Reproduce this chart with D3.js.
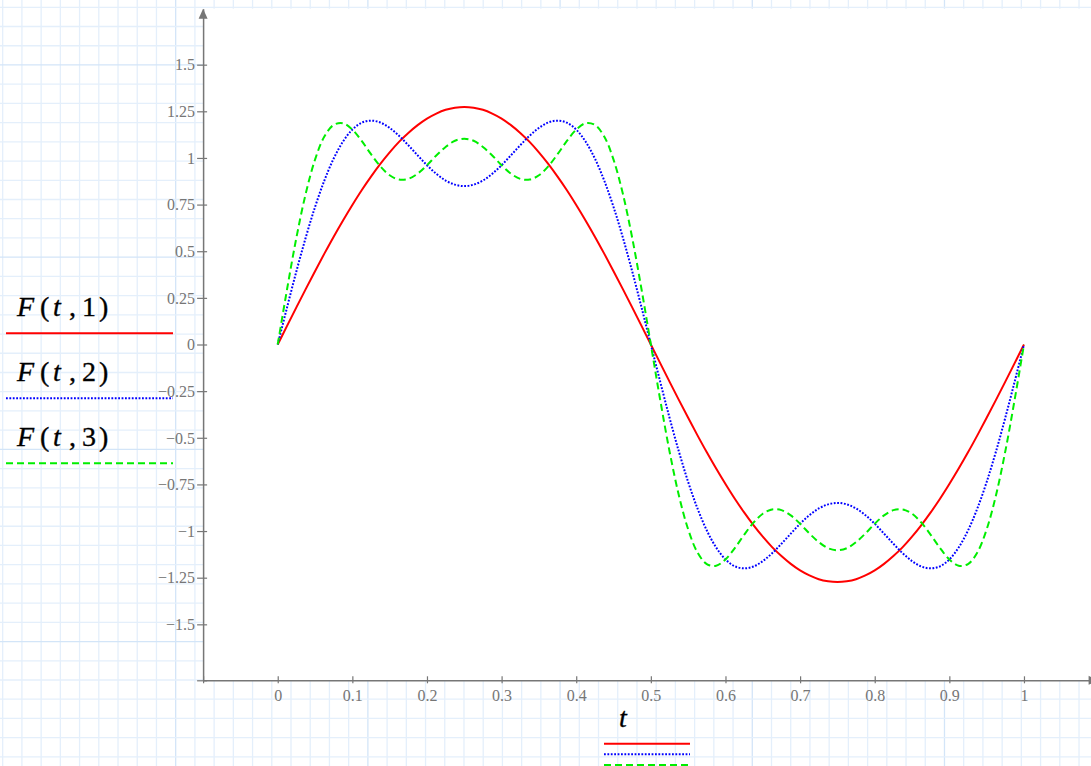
<!DOCTYPE html>
<html>
<head>
<meta charset="utf-8">
<script src="https://cdn.jsdelivr.net/npm/d3@7"></script>
<style>
  body { margin: 0; background: #fff; overflow: hidden; }
  .mathText { font-family: "Liberation Serif", serif; font-size: 28px; fill: #000; stroke: #000; stroke-width: 0.35px; }
</style>
</head>
<body>
<div id="chart"></div>
<script>
// Sample points
var tValues = [0, 0.0125, 0.025, 0.0375, 0.05, 0.0625, 0.075, 0.0875, 0.1, 0.1125, 0.125, 0.1375, 0.15, 0.1625, 0.175, 0.1875,
  0.2, 0.2125, 0.225, 0.2375, 0.25, 0.2625, 0.275, 0.2875, 0.3, 0.3125, 0.325, 0.3375, 0.35, 0.3625, 0.375, 0.3875,
  0.4, 0.4125, 0.425, 0.4375, 0.45, 0.4625, 0.475, 0.4875, 0.5, 0.5125, 0.525, 0.5375, 0.55, 0.5625, 0.575, 0.5875,
  0.6, 0.6125, 0.625, 0.6375, 0.65, 0.6625, 0.675, 0.6875, 0.7, 0.7125, 0.725, 0.7375, 0.75, 0.7625, 0.775, 0.7875,
  0.8, 0.8125, 0.825, 0.8375, 0.85, 0.8625, 0.875, 0.8875, 0.9, 0.9125, 0.925, 0.9375, 0.95, 0.9625, 0.975, 0.9875, 1];

var f1Values = [0, 0.100, 0.199, 0.297, 0.393, 0.487, 0.578, 0.665, 0.748, 0.827, 0.900, 0.968, 1.030, 1.086, 1.134, 1.176,
  1.211, 1.238, 1.258, 1.269, 1.273, 1.269, 1.258, 1.238, 1.211, 1.176, 1.134, 1.086, 1.030, 0.968, 0.900, 0.827,
  0.748, 0.665, 0.578, 0.487, 0.393, 0.297, 0.199, 0.100, 0, -0.100, -0.199, -0.297, -0.393, -0.487, -0.578, -0.665,
  -0.748, -0.827, -0.900, -0.968, -1.030, -1.086, -1.134, -1.176, -1.211, -1.238, -1.258, -1.269, -1.273, -1.269, -1.258, -1.238,
  -1.211, -1.176, -1.134, -1.086, -1.030, -0.968, -0.900, -0.827, -0.748, -0.665, -0.578, -0.487, -0.393, -0.297, -0.199, -0.100, 0];

var f2Values = [0, 0.199, 0.392, 0.573, 0.737, 0.879, 0.997, 1.088, 1.152, 1.189, 1.200, 1.190, 1.161, 1.119, 1.068, 1.014,
  0.961, 0.915, 0.879, 0.857, 0.849, 0.857, 0.879, 0.915, 0.961, 1.014, 1.068, 1.119, 1.161, 1.190, 1.200, 1.189,
  1.152, 1.088, 0.997, 0.879, 0.737, 0.573, 0.392, 0.199, 0, -0.199, -0.392, -0.573, -0.737, -0.879, -0.997, -1.088,
  -1.152, -1.189, -1.200, -1.190, -1.161, -1.119, -1.068, -1.014, -0.961, -0.915, -0.879, -0.857, -0.849, -0.857, -0.879, -0.915,
  -0.961, -1.014, -1.068, -1.119, -1.161, -1.190, -1.200, -1.189, -1.152, -1.088, -0.997, -0.879, -0.737, -0.573, -0.392, -0.199, 0];

var f3Values = [0, 0.296, 0.572, 0.808, 0.991, 1.115, 1.177, 1.186, 1.152, 1.091, 1.020, 0.955, 0.907, 0.884, 0.888, 0.916,
  0.961, 1.013, 1.059, 1.092, 1.103, 1.092, 1.059, 1.013, 0.961, 0.916, 0.888, 0.884, 0.907, 0.955, 1.020, 1.091,
  1.152, 1.186, 1.177, 1.115, 0.991, 0.808, 0.572, 0.296, 0, -0.296, -0.572, -0.808, -0.991, -1.115, -1.177, -1.186,
  -1.152, -1.091, -1.020, -0.955, -0.907, -0.884, -0.888, -0.916, -0.961, -1.013, -1.059, -1.092, -1.103, -1.092, -1.059, -1.013,
  -0.961, -0.916, -0.888, -0.884, -0.907, -0.955, -1.020, -1.091, -1.152, -1.186, -1.177, -1.115, -0.991, -0.808, -0.572, -0.296, 0];

var seriesArgs = ["1", "2", "3"];
var seriesColors = ["#ff0000", "#0000ff", "#00ee00"];
var seriesDash = ["none", "1.8,1.6", "7,4"];

var xTicks = [-0.1, 0, 0.1, 0.2, 0.3, 0.4, 0.5, 0.6, 0.7, 0.8, 0.9, 1];
var xTickLabels = ["", "0", "0.1", "0.2", "0.3", "0.4", "0.5", "0.6", "0.7", "0.8", "0.9", "1"];
var yTicks = [1.5, 1.25, 1, 0.75, 0.5, 0.25, 0, -0.25, -0.5, -0.75, -1, -1.25, -1.5, -1.8];
var yTickLabels = ["1.5", "1.25", "1", "0.75", "0.5", "0.25", "0", "\u22120.25", "\u22120.5", "\u22120.75", "\u22121", "\u22121.25", "\u22121.5", ""];

var svgWidth = 1091;
var svgHeight = 766;

var svg = d3.select("#chart")
  .append("svg")
  .attr("width", svgWidth)
  .attr("height", svgHeight);

// Step 1: worksheet grid background
// ==============================
var gridStep = 19.22;
var gridGroup = svg.append("g");
for (var i = 0; i * gridStep < svgWidth; i++) {
  gridGroup.append("line")
    .attr("x1", 2.7 + i * gridStep).attr("x2", 2.7 + i * gridStep)
    .attr("y1", 0).attr("y2", svgHeight)
    .attr("stroke", i % 10 == 9 ? "#d3e5f8" : "#e4effb")
    .attr("stroke-width", 1.3);
}
for (var j = 0; j * gridStep < svgHeight; j++) {
  gridGroup.append("line")
    .attr("y1", 7.3 + j * gridStep).attr("y2", 7.3 + j * gridStep)
    .attr("x1", 0).attr("x2", svgWidth)
    .attr("stroke", j % 10 == 3 ? "#d3e5f8" : "#e4effb")
    .attr("stroke-width", 1.3);
}

// Step 2: scales
// ==============================
var xScale = d3.scaleLinear()
  .domain([-0.1, 1.1])
  .range([203.1, 1098.6]);

var yScale = d3.scaleLinear()
  .domain([-1.8, 1.8])
  .range([680.3, 8.7]);

// plot area is white
svg.append("rect")
  .attr("x", xScale(-0.1))
  .attr("y", yScale(1.8))
  .attr("width", xScale(1.1) - xScale(-0.1))
  .attr("height", yScale(-1.8) - yScale(1.8))
  .attr("fill", "#fff");

// Step 3: axes
// ==============================
var axisColor = "#767676";

var xAxis = d3.axisBottom(xScale)
  .tickValues(xTicks)
  .tickFormat((d, i) => xTickLabels[i])
  .tickSizeOuter(0);

var yAxis = d3.axisLeft(yScale)
  .tickValues(yTicks)
  .tickFormat((d, i) => yTickLabels[i])
  .tickSizeOuter(0);

var xAxisGroup = svg.append("g")
  .attr("transform", `translate(0, ${yScale(-1.8)})`)
  .call(xAxis);

var yAxisGroup = svg.append("g")
  .attr("transform", `translate(${xScale(-0.1)}, 0)`)
  .call(yAxis);

[xAxisGroup, yAxisGroup].forEach(function (g) {
  g.attr("font-family", "'Liberation Serif', serif")
    .attr("font-size", 16);
  g.select(".domain").attr("stroke", axisColor).attr("stroke-width", 1.5);
  g.selectAll(".tick line").attr("stroke", axisColor).attr("stroke-width", 1.2);
  g.selectAll(".tick text").attr("fill", axisColor);
});

xAxisGroup.selectAll(".tick line").attr("y1", -4).attr("y2", 3);
xAxisGroup.selectAll(".tick text").attr("y", 21).attr("dy", 0);
yAxisGroup.selectAll(".tick line").attr("x1", -6).attr("x2", 4);
yAxisGroup.selectAll(".tick text").attr("x", -8).attr("dy", "0.33em");

// arrow heads
var x0 = xScale(-0.1);
var yTop = yScale(1.8);
svg.append("path")
  .attr("d", `M${x0 - 4.5},${yTop + 10}L${x0},${yTop}L${x0 + 4.5},${yTop + 10}Z`)
  .attr("fill", axisColor);

var xRight = xScale(1.1);
var y0 = yScale(-1.8);
svg.append("path")
  .attr("d", `M${xRight - 10},${y0 - 4.5}L${xRight},${y0}L${xRight - 10},${y0 + 4.5}Z`)
  .attr("fill", axisColor);

// Step 4: the traces
// ==============================
var seriesValues = [f1Values, f2Values, f3Values];

var line = d3.line()
  .x((d, i) => xScale(tValues[i]))
  .y(d => yScale(d))
  .curve(d3.curveCatmullRom);

svg.selectAll("path.trace")
  .data(seriesValues)
  .enter()
  .append("path")
  .classed("trace", true)
  .attr("d", d => line(d))
  .attr("fill", "none")
  .attr("stroke", (d, i) => seriesColors[i])
  .attr("stroke-width", 2)
  .attr("stroke-dasharray", (d, i) => seriesDash[i]);

// Step 5: y labels on the left, with their line styles
// ==============================
var legendBase = [316, 381, 446];
var legendLineY = [333.3, 398.3, 463.3];
// glyph offsets inside "F(t,n)"
var glyphX = [17, 40, 53, 69, 82, 99];

seriesArgs.forEach(function (arg, i) {
  var label = svg.append("text")
    .attr("class", "mathText")
    .attr("y", legendBase[i]);
  var parts = [["F", true], ["(", false], ["t", true], [",", false], [arg, false], [")", false]];
  parts.forEach(function (p, k) {
    label.append("tspan")
      .attr("x", glyphX[k])
      .attr("font-style", p[1] ? "italic" : "normal")
      .text(p[0]);
  });

  svg.append("line")
    .attr("x1", 6).attr("x2", 173)
    .attr("y1", legendLineY[i]).attr("y2", legendLineY[i])
    .attr("stroke", seriesColors[i])
    .attr("stroke-width", 2)
    .attr("stroke-dasharray", seriesDash[i]);
});

// Step 6: x label under the axis
// ==============================
svg.append("text")
  .attr("class", "mathText")
  .attr("x", 623)
  .attr("y", 726.5)
  .attr("text-anchor", "middle")
  .attr("font-style", "italic")
  .text("t");

var bottomLineY = [743.7, 754.3, 765];
seriesColors.forEach(function (c, i) {
  svg.append("line")
    .attr("x1", 604).attr("x2", 690)
    .attr("y1", bottomLineY[i]).attr("y2", bottomLineY[i])
    .attr("stroke", c)
    .attr("stroke-width", 2)
    .attr("stroke-dasharray", seriesDash[i]);
});
</script>
</body>
</html>
